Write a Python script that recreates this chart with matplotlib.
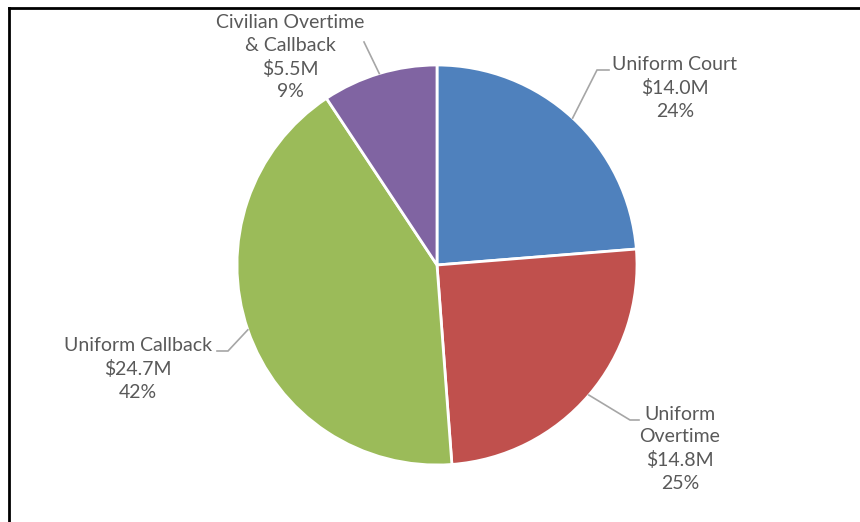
import numpy as np
import matplotlib.pyplot as plt
from matplotlib.lines import Line2D

plt.rcParams['font.family'] = ['Lato', 'DejaVu Sans']

# overtime spending by category, in $M
categories = ['Uniform Court', 'Uniform\nOvertime', 'Uniform Callback', 'Civilian Overtime\n& Callback']
amounts = [14.0, 14.8, 24.7, 5.5]
colors = ['#4F81BD', '#C0504D', '#9BBB59', '#8064A2']

fig = plt.figure(figsize=(8.6, 5.22), dpi=100)
ax = fig.add_axes([0, 0, 1, 1])

wedges, _ = ax.pie(amounts, colors=colors, startangle=90, counterclock=False,
                   radius=1, center=(0, 0),
                   wedgeprops=dict(edgecolor='white', linewidth=2))

# 200 px per unit, pie centre at (437, 265) px
ax.set_xlim(-437 / 200, (860 - 437) / 200)
ax.set_ylim((265 - 522) / 200, 265 / 200)
ax.set_aspect('equal')
ax.axis('off')

total = sum(amounts)

# label placement (text centre, elbow of leader, leader end) in pixels
label_pos = [
    dict(text=(675, 88), elbow=(597, 70), end=(609, 70)),
    dict(text=(680, 449), elbow=(630, 420), end=(639, 420)),
    dict(text=(138, 369), elbow=(228, 351), end=(217, 351)),
    dict(text=(290, 57), elbow=(364, 42), end=(364, 42)),
]


def px(p):
    return ((p[0] - 437) / 200, (265 - p[1]) / 200)


for w, cat, amt, pos in zip(wedges, categories, amounts, label_pos):
    ang = np.deg2rad((w.theta1 + w.theta2) / 2)
    edge = (np.cos(ang), np.sin(ang))
    ex, ey = px(pos['elbow'])
    nx, ny = px(pos['end'])
    ax.plot([edge[0], ex, nx], [edge[1], ey, ny], color='#A6A6A6', lw=1.2,
            solid_joinstyle='miter')
    pct = amt / total * 100
    tx, ty = px(pos['text'])
    ax.text(tx, ty, f'{cat}\n${amt:.1f}M\n{pct:.0f}%', ha='center', va='center',
            fontsize=14, color='#595959', linespacing=1.4)

# frame on top and left edges
fig.add_artist(Line2D([8.5 / 860, 1], [1 - 7.5 / 522, 1 - 7.5 / 522],
                      color='black', lw=2, transform=fig.transFigure))
fig.add_artist(Line2D([8.5 / 860, 8.5 / 860], [0, 1 - 7.5 / 522],
                      color='black', lw=2, transform=fig.transFigure))

fig.savefig('out.png', dpi=100, facecolor='white')
